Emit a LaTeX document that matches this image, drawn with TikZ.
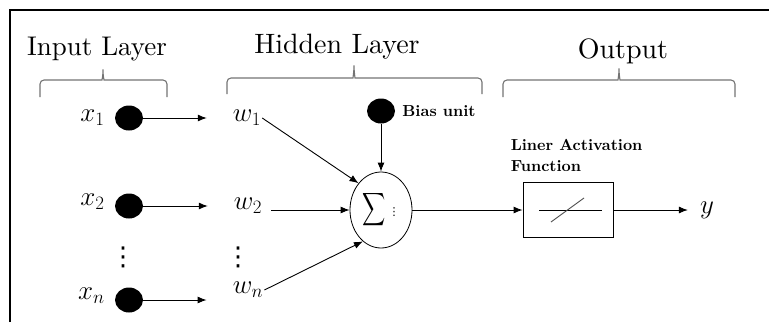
\RequirePackage{fix-cm}
\documentclass[tikz,border=0pt]{standalone}
\usepackage{fontspec}
\setmainfont{lmroman10-regular.otf}[BoldFont=lmroman10-bold.otf, ItalicFont=lmroman10-italic.otf]
\newfontfamily\dotsfont{DejaVu Sans}
\DeclareFontShape{OMX}{cmex}{m}{n}{<->cmex10}{}
\usepackage{tikz}
\usetikzlibrary{shapes.geometric, arrows.meta, positioning}

\tikzstyle{neuron} = [ellipse, fill=black, minimum width=28pt, minimum height=25pt, inner sep=0pt]
\tikzstyle{summer} = [ellipse, draw=black, minimum width=62pt, minimum height=76pt, inner sep=0pt, line width=0.8pt]
\tikzstyle{actbox} = [rectangle, draw=black, minimum width=90pt, minimum height=55pt, line width=0.9pt]
\tikzstyle{heading} = [font=\fontsize{28}{32}\selectfont, anchor=base, inner sep=0pt]
\tikzstyle{var} = [font=\fontsize{27}{30}\selectfont, inner sep=1pt]
\tikzstyle{vdotsnode} = [font=\dotsfont\fontsize{26}{26}\selectfont, inner sep=0pt]
\tikzstyle{note} = [font=\fontsize{16}{21}\selectfont\bfseries, inner sep=0pt, align=left]
\tikzstyle{layerbrace} = [draw=black!55, line width=1.1pt, rounded corners=4pt]
\tikzstyle{arrow} = [line width=0.9pt, -{Latex[length=9pt, width=7pt]}]

\begin{document}
\begin{tikzpicture}[x=1pt, y=-1pt, node distance=9pt]
\useasboundingbox (0,0) rectangle (769,322);

% Frame
\draw [line width=1.5pt] (10,322) -- (10,10) -- (769,10);

% Braces / layer titles
\draw [layerbrace] (40,97) |- (98,80) .. controls (102,80) and (103,75) .. (103,67) .. controls (103,75) and (104,80) .. (108,80) -| (167,97);
\draw [layerbrace] (227,94) |- (349,78) .. controls (353,78) and (354,70) .. (354,63) .. controls (354,70) and (355,78) .. (359,78) -| (482,94);
\draw [layerbrace] (503,97) |- (614,80) .. controls (618,80) and (619,73) .. (619,66) .. controls (619,73) and (620,80) .. (624,80) -| (735,97);
\node (inTitle) [heading, font=\fontsize{27}{32}\selectfont] at (97,55) {Input Layer};
\node (hidTitle) [heading] at (337,53) {Hidden Layer};
\node (outTitle) [heading] at (623,58) {Output};

% Nodes / blocks
\node (x1) [neuron] at (129,118) {};
\node (x2) [neuron] at (129,206) {};
\node (xn) [neuron] at (129,300) {};
\node (x1Label) [var, left=of x1] {$x_1$};
\node (x2Label) [var, left=of x2, yshift=4pt] {$x_2$};
\node (xnLabel) [var, left=of xn, yshift=4pt] {$x_n$};
\node (xDots) [vdotsnode] at (123,257) {⋮};

\node (w1) [var] at (247,118) {$w_1$};
\node (w2) [var] at (248,206) {$w_2$};
\node (wn) [var] at (248,290) {$w_n$};
\node (wDots) [vdotsnode] at (238,257) {⋮};

\node (bias) [neuron] at (381,111) {};
\node (biasLabel) [note, right=7pt of bias] {Bias unit};
\node (sum) [summer] at (381,210) {\fontsize{23}{23}\selectfont\scalebox{0.7}[1]{$\displaystyle\sum$}\hspace{3pt}{\dotsfont\fontsize{11}{11}\selectfont ⋮}};

\node (act) [actbox] at (568,210) {};
\node (actLabel) [note, anchor=south west] at ([xshift=-12pt, yshift=10pt]act.north west) {Liner Activation\\Function};
\draw [line width=0.9pt, shift={(act.center)}] (-29,0) -- (34,0);
\draw [line width=0.9pt, black!70, shift={(act.center)}] (-17,12) -- (16,-12);

\node (y) [var] at (707,210) {$y$};

% Arrows
\draw [arrow, shorten >=25pt] (x1) -- (x1 -| w1.west);
\draw [arrow, shorten >=25pt] (x2) -- (x2 -| w2.west);
\draw [arrow, shorten >=25pt] (xn) -- (xn -| wn.west);
\draw [arrow] (w1.east) -- (sum.130);
\draw [arrow, shorten <=8pt] (w2.east |- sum) -- (sum);
\draw [arrow] (wn.east) -- (sum.240);
\draw [arrow] (bias) -- (sum);
\draw [arrow] (sum) -- (act);
\draw [arrow, shorten >=11pt] (act) -- (y);

\end{tikzpicture}
\end{document}
